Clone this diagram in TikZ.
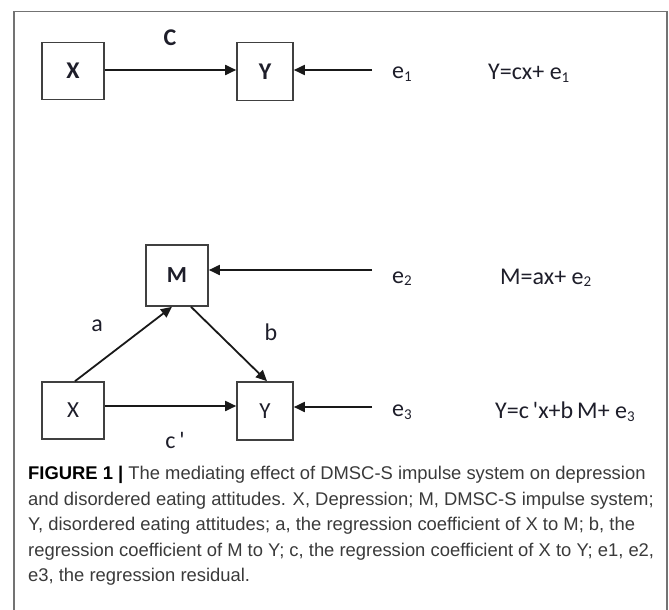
\documentclass[tikz,border=0pt]{standalone}
\usepackage{fontspec}
\setmainfont{Carlito}
\newfontfamily\capfont{Liberation Sans}
\usetikzlibrary{arrows.meta}
\definecolor{txt}{HTML}{1E1E2A}
\definecolor{captxt}{HTML}{3A3A3A}
\begin{document}
\begin{tikzpicture}[x=1pt,y=-1pt,
  varbox/.style={draw=black!75,line width=1.6pt,fill=white,inner sep=0pt,text=txt},
  arr/.style={-{Triangle[length=11pt,width=10pt]},line width=1.8pt,black!90,shorten >=0pt},
  lab/.style={text=txt,font=\fontsize{24}{26}\selectfont,inner sep=0pt},
  eq/.style={text=txt,font=\fontsize{24}{26}\selectfont,inner sep=0pt,anchor=west}]
\useasboundingbox (0,0) rectangle (669,610);
% frame
\draw[line width=1.8pt,black!55] (14,612) -- (14,11.5) -- (667,11.5) -- (667,612);
% top model
\node[varbox,minimum width=62pt,minimum height=57pt,font=\fontsize{24}{26}\selectfont\bfseries] (X1) at (73,71) {X};
\node[varbox,minimum width=56pt,minimum height=58pt,font=\fontsize{24}{26}\selectfont\bfseries] (Y1) at (265,71.5) {Y};
\node[lab,font=\fontsize{24}{26}\selectfont\bfseries] (C) at (170,38) {C};
\coordinate (e1s) at (372,70);
\node[eq] (e1) at (392,74) {e{\fontsize{15}{16}\selectfont\raisebox{-3pt}{1}}};
\node[eq] (eq1) at (488,73) {Y=cx+ e{\fontsize{15}{16}\selectfont\raisebox{-3pt}{1}}};
\draw[arr] (X1.east |- 0,70) -- (Y1.west |- 0,70);
\draw[arr] (e1s) -- (e1s -| Y1.east);
% bottom model
\node[varbox,minimum width=62pt,minimum height=61pt,font=\fontsize{23}{26}\selectfont\bfseries] (M) at (177,275.5) {M};
\node[varbox,minimum width=62pt,minimum height=57pt,font=\fontsize{23}{26}\selectfont] (X2) at (73,410.5) {X};
\node[varbox,minimum width=56pt,minimum height=58pt,font=\fontsize{23}{26}\selectfont] (Y2) at (265,411) {Y};
\coordinate (e2s) at (372,270);
\coordinate (e3s) at (372,407);
\coordinate (cps) at (104,406);
\draw[arr] (e2s) -- (e2s -| M.east);
\draw[arr] (cps -| X2.east) -- (cps -| Y2.west);
\draw[arr] (e3s) -- (e3s -| Y2.east);
\draw[arr] ([xshift=2pt]X2.north) -- ([xshift=-5pt]M.south);
\draw[arr] ([xshift=14pt]M.south) -- ([xshift=2pt]Y2.north);
\node[lab] (a) at (97,326) {a};
\node[lab] (b) at (271,332) {b};
\node[lab] (cp) at (175,440) {c\,\textquotesingle};
\node[eq] (e2) at (392,279) {e{\fontsize{15}{16}\selectfont\raisebox{-2pt}{2}}};
\node[eq] (eq2) at (500,278) {M=ax+ e{\fontsize{15}{16}\selectfont\raisebox{-2pt}{2}}};
\node[eq] (e3) at (392,412) {e{\fontsize{15}{16}\selectfont\raisebox{-3pt}{3}}};
\node[eq] (eq3) at (495,412) {Y=c\,\textquotesingle x+b\,M+ e{\fontsize{15}{16}\selectfont\raisebox{-3pt}{3}}};
% caption
\node[anchor=north west,inner sep=0pt,align=left,text=captxt,
  font=\capfont\fontsize{18.4}{25.5}\selectfont] (cap) at (28,466)
 {{\color{black}\bfseries FIGURE 1 |} The mediating effect of DMSC-S impulse system on depression\\
  and disordered eating attitudes. X, Depression; M, DMSC-S impulse system;\\
  Y, disordered eating attitudes; a, the regression coefficient of X to M; b, the\\
  regression coefficient of M to Y; c, the regression coefficient of X to Y; e1, e2,\\
  e3, the regression residual.};
\end{tikzpicture}
\end{document}
